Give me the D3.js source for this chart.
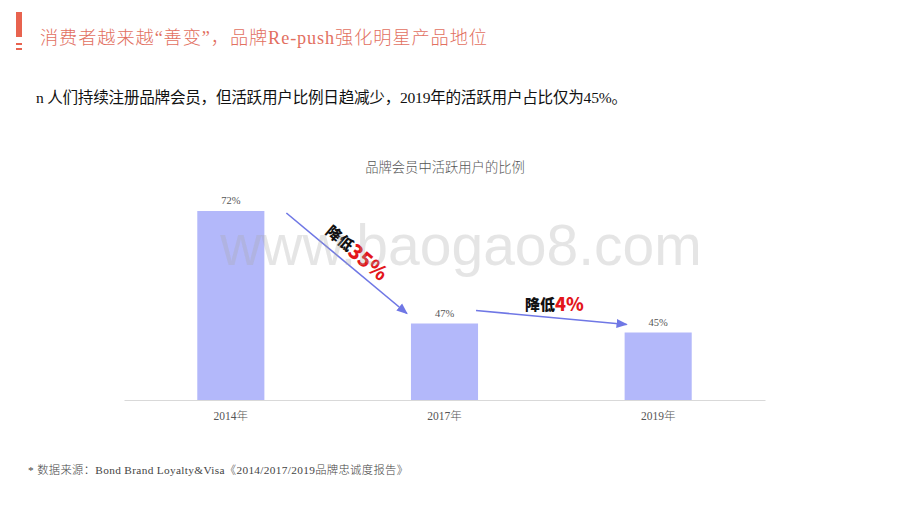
<!DOCTYPE html>
<html><head><meta charset="utf-8">
<script src="https://cdn.jsdelivr.net/npm/d3@7"></script>
<style>
body{margin:0;background:#fff;}
svg{display:block;}
</style></head>
<body>
<svg id="c" width="920" height="518"></svg>
<script>
const categories = ["2014年", "2017年", "2019年"];
const values = [72, 47, 45];
const valueLabels = ["72%", "47%", "45%"];
const changeLabels = [{pre: "降低", num: "35%"}, {pre: "降低", num: "4%"}];

const svg = d3.select("#c");
const cn = "'Liberation Serif','Noto Sans CJK SC',sans-serif";

// header decoration
svg.append("rect").attr("x",16).attr("y",12).attr("width",6).attr("height",25).attr("fill","#e8634f");
svg.append("rect").attr("x",16).attr("y",43).attr("width",6).attr("height",2).attr("fill","#e8634f");
svg.append("rect").attr("x",16).attr("y",48).attr("width",6).attr("height",2).attr("fill","#e8634f");

svg.append("text").attr("x",40).attr("y",44).attr("font-family",cn).attr("font-weight",300)
  .attr("font-size",18.2).attr("fill","#e2705f").attr("textLength",447).attr("lengthAdjust","spacing")
  .text("消费者越来越“善变”，品牌Re-push强化明星产品地位");

svg.append("text").attr("x",36).attr("y",103).attr("font-family",cn).attr("font-weight",400)
  .attr("font-size",15.6).attr("fill","#111").attr("textLength",591).attr("lengthAdjust","spacing")
  .text("n 人们持续注册品牌会员，但活跃用户比例日趋减少，2019年的活跃用户占比仅为45%。");

svg.append("text").attr("x",445).attr("y",172).attr("text-anchor","middle").attr("font-family",cn)
  .attr("font-weight",300).attr("font-size",13.3).attr("fill","#555").text("品牌会员中活跃用户的比例");

// scales
const x = d3.scaleBand().domain(categories).range([124,765]).paddingInner(0.686).paddingOuter(0.343);
const y = d3.scaleLinear().domain([30,80]).range([400,175]);

// bars
svg.append("g").selectAll("rect").data(values).join("rect")
  .attr("x",(d,i)=>x(categories[i])).attr("width",x.bandwidth())
  .attr("y",d=>y(d)).attr("height",d=>y(30)-y(d)).attr("fill","#b3b8fa");

// axis
const ax = svg.append("g").attr("transform","translate(0,400)").call(d3.axisBottom(x).tickSize(0).tickPadding(12));
ax.select(".domain").attr("stroke","#d9d9d9").attr("stroke-width",1.2);
ax.selectAll("text").attr("font-family",cn).attr("font-size",11.5).attr("fill","#555").attr("font-weight",300);

// value labels
svg.append("g").selectAll("text").data(values).join("text")
  .attr("x",(d,i)=>x(categories[i])+x.bandwidth()/2).attr("y",d=>y(d)-7)
  .attr("text-anchor","middle").attr("font-family",cn).attr("font-size",10.5).attr("fill","#555")
  .text((d,i)=>valueLabels[i]);

// arrows
const defs = svg.append("defs");
defs.append("marker").attr("id","ah").attr("viewBox","0 0 10 10").attr("refX",9).attr("refY",5)
  .attr("markerWidth",7).attr("markerHeight",7).attr("orient","auto-start-reverse")
  .append("path").attr("d","M0,1 L10,5 L0,9 Z").attr("fill","#6f77e5");

const bw = x.bandwidth();
const arrows = [
  {x1: x(categories[0])+bw+22, y1: y(values[0])+2, x2: x(categories[1])-4, y2: y(values[1])-10},
  {x1: x(categories[1])+bw-2, y1: y(values[1])-13, x2: x(categories[2])+2, y2: y(values[2])-8}
];
svg.append("g").selectAll("line").data(arrows).join("line")
  .attr("x1",d=>d.x1).attr("y1",d=>d.y1).attr("x2",d=>d.x2).attr("y2",d=>d.y2)
  .attr("stroke","#6f77e5").attr("stroke-width",1.6).attr("marker-end","url(#ah)");

// change labels
const bold = "'Noto Sans CJK SC','Liberation Sans',sans-serif";
const a0 = arrows[0];
const ang = Math.atan2(a0.y2-a0.y1, a0.x2-a0.x1)*180/Math.PI;
const t1 = svg.append("text").attr("transform",`translate(${(a0.x1+a0.x2)/2+11},${(a0.y1+a0.y2)/2-12}) rotate(${ang})`)
  .attr("text-anchor","middle").attr("dominant-baseline","central").attr("font-family",bold).attr("font-weight",900);
t1.append("tspan").attr("font-size",15).attr("fill","#111").text(changeLabels[0].pre);
t1.append("tspan").attr("font-size",20).attr("fill","#e3161b").text(changeLabels[0].num);

const a1 = arrows[1];
const t2 = svg.append("text").attr("x",(a1.x1+a1.x2)/2+3).attr("y",303)
  .attr("text-anchor","middle").attr("dominant-baseline","central").attr("font-family",bold).attr("font-weight",900);
t2.append("tspan").attr("font-size",15).attr("fill","#111").text(changeLabels[1].pre);
t2.append("tspan").attr("font-size",18).attr("fill","#e3161b").text(changeLabels[1].num);

// footnote
svg.append("text").attr("x",28).attr("y",474).attr("font-family",cn).attr("font-weight",300)
  .attr("font-size",11.3).attr("fill","#444").attr("textLength",380).attr("lengthAdjust","spacing")
  .text("* 数据来源：Bond Brand Loyalty&Visa《2014/2017/2019品牌忠诚度报告》");

// watermark
svg.append("text").attr("x",461).attr("y",265).attr("text-anchor","middle")
  .attr("font-family","'Liberation Sans',Arial,sans-serif").attr("font-size",57)
  .attr("fill","#aaa").attr("fill-opacity",0.3).text("www.baogao8.com");
</script>
</body></html>
